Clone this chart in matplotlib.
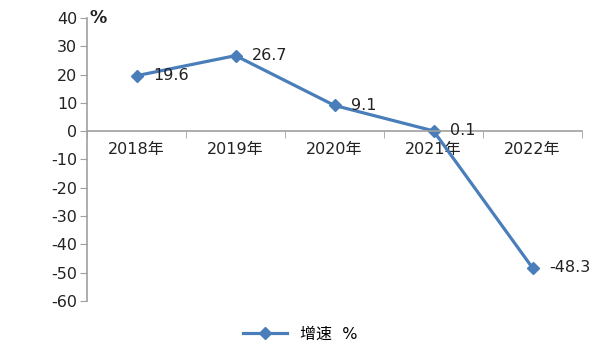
import matplotlib
matplotlib.use('Agg')
import matplotlib.pyplot as plt

years = ['2018年', '2019年', '2020年', '2021年', '2022年']
growth = [19.6, 26.7, 9.1, 0.1, -48.3]
yticks = [40, 30, 20, 10, 0, -10, -20, -30, -40, -50, -60]

plt.rcParams['font.family'] = ['DejaVu Sans', 'Noto Sans CJK SC']
blue = '#4a7ebb'
grey = '#a0a0a0'
fs = 11.5

fig = plt.figure(figsize=(6, 3.6), dpi=100)
ax = fig.add_axes([0.145, 0.164, 0.825, 0.786])

x = list(range(len(years)))
ax.plot(x, growth, color=blue, lw=2.3, marker='D', ms=6, label='增速  %')
for xi, v in zip(x, growth):
    ax.annotate('{:.1f}'.format(v), (xi, v), xytext=(12, 0), textcoords='offset points',
                va='center', ha='left', fontsize=fs, color='#222222')

ax.set_xlim(-0.5, len(years) - 0.5)
ax.set_ylim(-60, 40)
ax.set_yticks(yticks)
ax.set_yticklabels([str(t) for t in yticks])

ax.set_xticks(x)
ax.set_xticklabels(years)
ax.set_xticks([i - 0.5 for i in range(len(years) + 1)], minor=True)
ax.tick_params(axis='x', which='major', length=0, pad=8, labelsize=fs, labelcolor='#222222')
ax.tick_params(axis='x', which='minor', length=5, color=grey, direction='out')
ax.tick_params(axis='y', length=5, color=grey, labelsize=fs, labelcolor='#222222', pad=2)

ax.spines['top'].set_visible(False)
ax.spines['right'].set_visible(False)
ax.spines['bottom'].set_position(('data', 0))
for s in ['left', 'bottom']:
    ax.spines[s].set_color(grey)
    ax.spines[s].set_linewidth(1.2)

ax.text(0.005, 40, '%', fontsize=12.5, fontweight='bold', va='center', ha='left',
        transform=ax.get_yaxis_transform(), color='#222222')

fig.legend(loc='lower center', bbox_to_anchor=(0.5, 0.01), frameon=False, fontsize=fs,
           handlelength=2.8)

fig.savefig('out.png', dpi=100)
